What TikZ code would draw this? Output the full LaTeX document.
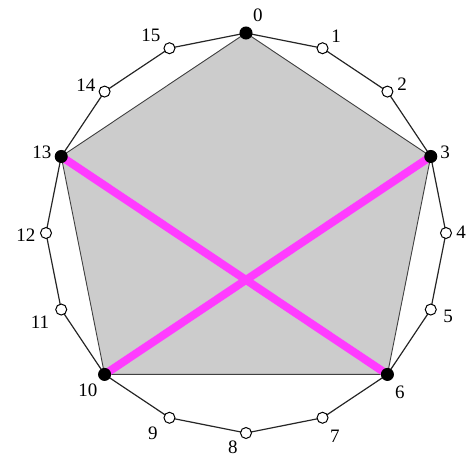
\documentclass[tikz,border=0pt]{standalone}
\usepackage{fontspec}
\setmainfont{Liberation Serif}
\usetikzlibrary{positioning}
\definecolor{hlPink}{RGB}{255,60,255}
\definecolor{polyGray}{RGB}{204,204,204}

\begin{document}
\begin{tikzpicture}[x=1pt,y=1pt,
  vtx/.style={circle, draw=black, line width=1pt, fill=white,
              inner sep=0pt, minimum size=11pt},
  hit/.style={vtx, fill=black, minimum size=12pt},
  lab/.style={font=\fontsize{19}{22}\selectfont, inner sep=0pt},
  rim/.style={line width=1.2pt, black!85},
  diag/.style={line width=8pt, hlPink}
]
\useasboundingbox (-246,-223) rectangle (223,233);
% corners of the 16-gon
\foreach \i in {0,...,15}
  \coordinate (v\i) at ({90-22.5*\i}:200);
% pentagon
\draw[fill=polyGray, draw=black!75, line width=0.9pt]
  (v0) -- (v3) -- (v6) -- (v10) -- (v13) -- cycle;
% outer rim
\draw[rim] (v0) \foreach \i in {1,...,15} { -- (v\i) } -- cycle;
% crossing chords
\draw[diag] (v13) -- (v6);
\draw[diag] (v3) -- (v10);
% dots
\foreach \i in {1,2,4,5,7,8,9,11,12,14,15}
  \node[vtx] (d\i) at (v\i) {};
\foreach \i in {0,3,6,10,13}
  \node[hit] (d\i) at (v\i) {};
% numbers
\foreach \i/\lx/\ly in {0/12/218, 1/90/197, 2/156/149, 3/199/81,
    4/215/1, 5/202/-83, 6/154/-159, 7/89/-203, 8/-13/-214,
    9/-93/-200, 10/-158/-157, 11/-206/-89, 12/-220/-2,
    13/-204/81, 14/-160/148, 15/-95/198}
  \node[lab] (n\i) at (\lx,\ly) {\i};
\end{tikzpicture}
\end{document}
